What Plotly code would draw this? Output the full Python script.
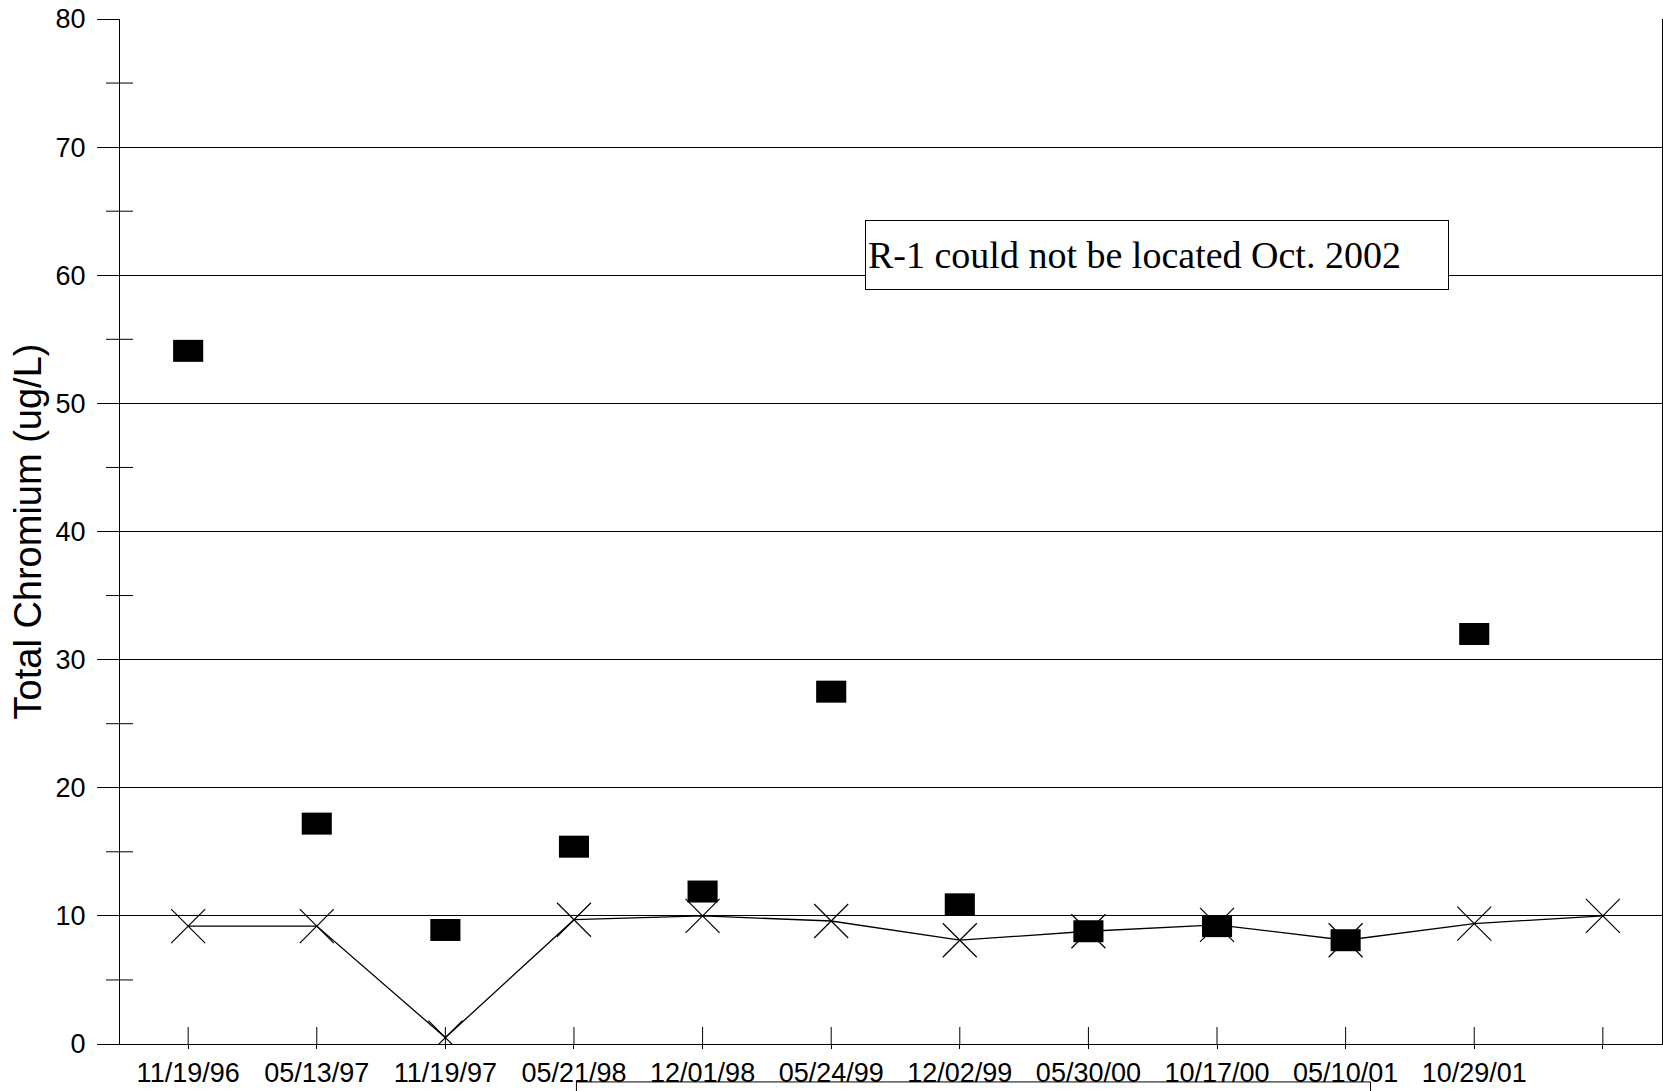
import plotly.graph_objects as go

dates = ["11/19/96", "05/13/97", "11/19/97", "05/21/98", "12/01/98", "05/24/99",
         "12/02/99", "05/30/00", "10/17/00", "05/10/01", "10/29/01", ""]
total_cr = [54.1, 17.2, 8.9, 15.4, 11.9, 27.5, 10.9, 8.8, 9.2, 8.1, 32.0, None]
detect_lim = [9.2, 9.2, 0.5, 9.7, 10.0, 9.6, 8.1, 8.8, 9.3, 8.1, 9.4, 10.0]
major_y = [0, 10, 20, 30, 40, 50, 60, 70, 80]
minor_y = [5, 15, 25, 35, 45, 55, 65, 75]

idx = list(range(len(dates)))

fig = go.Figure()
fig.add_trace(go.Scatter(
    x=idx, y=detect_lim, mode="lines+markers",
    line=dict(color="black", width=1.3),
    marker=dict(symbol="x-thin", size=34, line=dict(color="black", width=1.2)),
    showlegend=False))
fig.add_trace(go.Scatter(
    x=idx, y=total_cr, mode="markers",
    marker=dict(symbol="line-ew", size=21.5, color="black",
                line=dict(color="black", width=22)),
    showlegend=False))

shapes = []
for v in minor_y:
    shapes.append(dict(type="line", xref="paper", yref="y", xsizemode="pixel",
                       xanchor=0, x0=-14, x1=13, y0=v, y1=v,
                       line=dict(color="black", width=1)))
for i in idx:
    shapes.append(dict(type="line", xref="x", yref="y", ysizemode="pixel",
                       yanchor=0, y0=-17, y1=17, x0=i, x1=i,
                       line=dict(color="black", width=1)))
# partially visible legend box below the axis
shapes.append(dict(type="rect", xref="paper", yref="paper",
                   x0=0.296, x1=0.811, y0=-0.08, y1=-0.037,
                   line=dict(color="black", width=1), fillcolor="rgba(0,0,0,0)"))

fig.update_layout(
    width=1663, height=1091,
    margin=dict(l=120, r=1, t=19, b=47),
    paper_bgcolor="white", plot_bgcolor="white",
    font=dict(family="Liberation Sans, Arial", color="black"),
    shapes=shapes,
    xaxis=dict(range=[-0.53, 11.46], tickvals=idx, ticktext=dates,
               showgrid=False, zeroline=False, showline=True,
               linecolor="black", linewidth=1.3, automargin=False,
               ticks="outside", ticklen=4, tickcolor="black",
               tickfont=dict(size=27, family="Liberation Sans, Arial")),
    yaxis=dict(range=[0, 80], tickvals=major_y,
               showgrid=True, gridcolor="black", gridwidth=1,
               zeroline=False, showline=True, linecolor="black", linewidth=1.3,
               mirror=True, automargin=False,
               ticks="outside", ticklen=22, tickcolor="black",
               ticklabelstandoff=6,
               tickfont=dict(size=27, family="Liberation Sans, Arial"),
               title=dict(text="Total Chromium (ug/L)",
                          font=dict(size=38, family="Liberation Sans, Arial"),
                          standoff=2)),
    annotations=[dict(
        text="R-1 could not be located Oct. 2002",
        xref="paper", yref="y", x=0.4834, y=61.6,
        xanchor="left", yanchor="middle", showarrow=False,
        font=dict(size=38, family="Liberation Serif, Times New Roman", color="black"),
        bordercolor="black", borderwidth=1, bgcolor="white",
        width=578, height=64, align="left", borderpad=2)],
)

fig.write_html("out.html")
